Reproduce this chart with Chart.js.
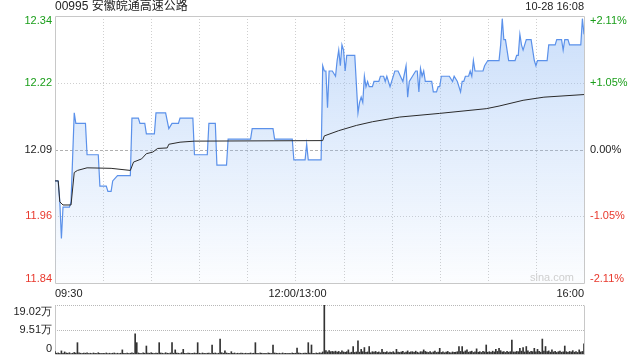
<!DOCTYPE html>
<html>
<head>
<meta charset="utf-8">
<script src="https://cdn.jsdelivr.net/npm/chart.js@4.4.0/dist/chart.umd.min.js"></script>
<style>
  body { margin: 0; background: #fff; }
  .box { position: absolute; left: 0; width: 640px; }
</style>
</head>
<body>
<div class="box" style="top:0;height:300px"><canvas id="main"></canvas></div>
<div class="box" style="top:300px;height:60px"><canvas id="vol"></canvas></div>
<script>
// header / labels
const stockName = '00995 安徽皖通高速公路';
const stamp = '10-28 16:08';
const prevClose = 12.09;
const pctLimit = 2.11;
const pctSteps = [2.11, 1.05, 0, -1.05, -2.11];
const priceLabels = ['12.34', '12.22', '12.09', '11.96', '11.84'];
const pctLabels = ['+2.11%', '+1.05%', '0.00%', '-1.05%', '-2.11%'];
const timeLabels = ['09:30', '12:00/13:00', '16:00'];
const volLabels = ['19.02万', '9.51万', '0'];
const volMax = 19.02;

// minute index (0 = 09:30, 150 = 12:00/13:00, 330 = 16:00) and price
const priceMinutes = [0, 2, 3, 4, 5, 9, 10, 12, 13, 19, 20, 27, 28, 32, 33, 35, 36, 39, 40, 47,
  48, 52, 53, 56, 57, 62, 63, 69, 71, 73, 77, 78, 86, 87, 95, 96, 100, 101, 107, 108,
  122, 123, 136, 137, 148, 149, 156, 157, 158, 166, 167, 168, 169, 170, 171, 173, 175, 176, 177, 178,
  179, 180, 181, 182, 187, 189, 190, 191, 192, 193, 194, 195, 196, 198, 199, 202, 203, 205, 206, 207,
  209, 212, 214, 217, 219, 220, 221, 223, 225, 226, 227, 228, 229, 230, 231, 235, 236, 238, 239, 240,
  241, 246, 248, 249, 251, 253, 254, 255, 256, 258, 259, 260, 261, 262, 267, 268, 270, 277, 278, 279,
  280, 281, 283, 287, 288, 289, 290, 291, 292, 294, 297, 299, 300, 301, 307, 308, 312, 313, 316, 317,
  318, 320, 321, 328, 329, 330];
const prices = [12.03, 12.03, 11.99, 11.92, 11.98, 11.98, 11.99, 12.16, 12.14, 12.14, 12.08, 12.08, 12.02, 12.02, 12.01, 12.01, 12.03, 12.04, 12.04, 12.04,
  12.15, 12.15, 12.14, 12.14, 12.12, 12.12, 12.16, 12.16, 12.13, 12.14, 12.14, 12.15, 12.15, 12.08, 12.08, 12.14, 12.14, 12.06, 12.06, 12.11,
  12.11, 12.13, 12.13, 12.11, 12.11, 12.07, 12.07, 12.10, 12.07, 12.07, 12.25, 12.24, 12.24, 12.17, 12.24, 12.24, 12.23, 12.26, 12.28, 12.25,
  12.29, 12.28, 12.24, 12.27, 12.27, 12.16, 12.18, 12.19, 12.18, 12.23, 12.21, 12.22, 12.21, 12.21, 12.22, 12.22, 12.23, 12.23, 12.22, 12.23,
  12.21, 12.24, 12.24, 12.22, 12.25, 12.19, 12.22, 12.23, 12.24, 12.24, 12.20, 12.245, 12.23, 12.24, 12.22, 12.22, 12.20, 12.20, 12.21, 12.21,
  12.23, 12.23, 12.22, 12.23, 12.22, 12.20, 12.22, 12.22, 12.23, 12.23, 12.24, 12.23, 12.26, 12.24, 12.24, 12.25, 12.26, 12.26, 12.29, 12.34,
  12.30, 12.30, 12.26, 12.26, 12.27, 12.27, 12.31, 12.29, 12.28, 12.30, 12.30, 12.26, 12.25, 12.26, 12.26, 12.29, 12.29, 12.30, 12.30, 12.28,
  12.30, 12.30, 12.29, 12.29, 12.34, 12.31];

// average price line
const avgMinutes = [0, 2, 3, 5, 10, 12, 14, 20, 35, 47, 49, 54, 57, 61, 64, 70, 71, 78, 87, 167,
  168, 177, 188, 198, 215, 240, 269, 277, 292, 305, 330];
const avgPrices = [12.03, 12.03, 11.99, 11.984, 11.984, 12.046, 12.05, 12.055, 12.054, 12.05, 12.066, 12.072, 12.082, 12.085, 12.092, 12.093, 12.10, 12.104, 12.106, 12.107,
  12.116, 12.126, 12.136, 12.143, 12.152, 12.159, 12.168, 12.173, 12.184, 12.19, 12.195];

// volume per minute, in 万 shares (minute 0..330)
const volumes = [
  0.9, 0.3, 0.4, 0.2, 1.2, 0.3, 0.8, 0.4, 0.3, 0.5, 0.2, 0.3, 0.6, 0.4, 4.4, 0.5, 0.3, 0.2, 0.4, 0.3, 0.5, 0.2, 0.3, 0.2, 0.4, 0.3, 0.2, 0.5, 0.3, 0.2,
  0.3, 0.2, 0.4, 0.2, 0.3, 0.2, 0.3, 0.4, 0.2, 0.3, 0.2, 0.3, 1.6, 0.3, 0.2, 0.4, 0.2, 0.3, 0.5, 0.3, 7.8, 4.4, 0.4, 0.3, 0.2, 0.5, 0.3, 3.1, 0.4, 0.3,
  0.5, 0.3, 0.2, 0.4, 0.3, 4.4, 0.4, 0.3, 0.2, 0.5, 0.3, 0.2, 0.4, 4.4, 0.3, 1.6, 0.4, 0.3, 0.2, 0.5, 1.8, 0.3, 0.2, 0.4, 0.3, 0.2, 0.3, 0.4, 0.3, 4.4,
  0.3, 0.2, 0.4, 0.3, 0.2, 0.3, 0.4, 0.2, 3.5, 0.3, 0.4, 0.2, 0.3, 5.8, 0.5, 0.3, 1.2, 0.4, 0.3, 0.2, 0.9, 0.3, 0.4, 0.2, 0.3, 0.2, 0.4, 0.3, 0.2, 0.3,
  0.2, 0.3, 0.4, 0.2, 0.3, 4.4, 0.3, 0.2, 0.4, 0.3, 0.2, 0.3, 0.2, 0.4, 0.3, 0.2, 3.5, 0.4, 0.3, 0.2, 0.3, 0.2, 0.4, 0.2, 0.3, 0.2, 0.3, 0.2, 0.4, 0.3,
  0.3, 2.3, 0.4, 0.3, 0.2, 0.3, 0.4, 0.3, 4.4, 0.4, 3.5, 0.3, 0.2, 0.4, 0.3, 0.5, 0.4, 0.8, 19.02, 1.3, 0.8, 1.3, 0.9, 1.0, 0.8, 1.1, 0.7, 1.0, 0.6, 1.2,
  0.8, 0.6, 0.9, 1.6, 0.5, 0.7, 2.9, 0.6, 0.8, 5.1, 0.7, 1.8, 0.9, 2.5, 0.6, 0.8, 2.9, 0.5, 0.9, 0.7, 1.0, 0.6, 0.8, 0.5, 1.8, 0.7, 0.6, 0.9, 0.5, 0.7,
  0.6, 0.9, 0.5, 1.8, 0.7, 0.6, 0.8, 1.0, 0.5, 0.7, 1.2, 0.6, 0.8, 0.9, 0.6, 1.1, 0.7, 0.5, 0.9, 0.8, 1.6, 1.0, 0.7, 0.6, 0.9, 0.5, 0.8, 1.1, 0.6, 0.7,
  2.2, 0.6, 0.8, 0.5, 0.7, 1.0, 0.6, 0.5, 0.8, 0.6, 0.7, 0.9, 2.9, 1.0, 2.9, 0.8, 1.2, 1.6, 0.7, 0.9, 1.1, 0.6, 0.8, 2.0, 0.7, 0.9, 0.6, 1.0, 0.8, 3.5,
  0.7, 0.9, 0.6, 1.1, 0.8, 1.8, 1.0, 2.2, 1.3, 0.8, 0.9, 0.6, 1.0, 0.7, 0.9, 5.4, 0.8, 0.7, 1.0, 0.9, 2.2, 1.1, 2.5, 0.8, 2.9, 1.2, 0.7, 1.0, 0.9, 2.2,
  0.8, 1.8, 1.0, 0.7, 5.8, 1.1, 2.9, 0.9, 1.2, 0.7, 1.6, 0.8, 1.0, 0.6, 0.9, 1.1, 0.7, 0.8, 3.1, 0.9, 0.6, 1.0, 0.8, 1.3, 0.7, 0.9, 0.6, 1.6, 0.8, 1.0,
  3.9];

const GREEN = '#1a9e1a';
const RED = '#e8382c';
const DARK = '#222';
const FONT = "11px Arial, 'Liberation Sans', sans-serif";
const colorFor = i => (i < 2 ? GREEN : i > 2 ? RED : DARK);

function hline(ctx, area, y, dash, color) {
  ctx.save();
  ctx.strokeStyle = color;
  ctx.lineWidth = 1;
  ctx.setLineDash(dash);
  ctx.beginPath();
  ctx.moveTo(area.left, Math.round(y) + 0.5);
  ctx.lineTo(area.right, Math.round(y) + 0.5);
  ctx.stroke();
  ctx.restore();
}
function vline(ctx, area, x, dash, color) {
  ctx.save();
  ctx.strokeStyle = color;
  ctx.lineWidth = 1;
  ctx.setLineDash(dash);
  ctx.beginPath();
  ctx.moveTo(Math.round(x) + 0.5, area.top);
  ctx.lineTo(Math.round(x) + 0.5, area.bottom);
  ctx.stroke();
  ctx.restore();
}
function frame(ctx, area, topDotted) {
  ctx.save();
  ctx.strokeStyle = '#c8c8c8';
  ctx.lineWidth = 1;
  const l = Math.round(area.left) + 0.5, r = Math.round(area.right) + 0.5;
  const t = Math.round(area.top) + 0.5, b = Math.round(area.bottom) + 0.5;
  ctx.beginPath();
  ctx.moveTo(l, t); ctx.lineTo(l, b); ctx.lineTo(r, b); ctx.lineTo(r, t);
  if (!topDotted) ctx.lineTo(l, t);
  ctx.stroke();
  ctx.restore();
}

const mainDecor = {
  id: 'mainDecor',
  beforeDatasetsDraw(chart) {
    const { ctx, chartArea: a, scales: { x, y } } = chart;
    for (let m = 30; m < 330; m += 30) vline(ctx, a, x.getPixelForValue(m), [1, 2], '#cfcfcf');
    pctSteps.forEach((p, i) => {
      if (i === 0 || i === 4) return;
      const py = y.getPixelForValue(prevClose * (1 + p / 100));
      if (p === 0) hline(ctx, a, py, [3, 2], '#b0b0b0');
      else hline(ctx, a, py, [1, 2], '#cfcfcf');
    });
    frame(ctx, a, false);
  },
  afterDraw(chart) {
    const { ctx, chartArea: a, scales: { x, y } } = chart;
    ctx.save();
    ctx.font = FONT;
    pctSteps.forEach((p, i) => {
      const py = y.getPixelForValue(prevClose * (1 + p / 100));
      ctx.textBaseline = i === 0 ? 'top' : i === 4 ? 'bottom' : 'middle';
      const ty = i === 0 ? py - 1 : i === 4 ? py + 1 : py;
      ctx.fillStyle = colorFor(i);
      ctx.textAlign = 'right';
      ctx.fillText(priceLabels[i], a.left - 3, ty);
      ctx.textAlign = 'left';
      ctx.fillText(pctLabels[i], a.right + 6, ty);
    });
    ctx.fillStyle = DARK;
    ctx.textBaseline = 'middle';
    const ly = a.bottom + 11;
    ctx.textAlign = 'left';
    ctx.fillText(timeLabels[0], x.getPixelForValue(0), ly);
    ctx.textAlign = 'center';
    ctx.fillText(timeLabels[1], x.getPixelForValue(150) + 2, ly);
    ctx.textAlign = 'right';
    ctx.fillText(timeLabels[2], x.getPixelForValue(330), ly);
    ctx.fillText(stamp, a.right, 7);
    ctx.textAlign = 'left';
    ctx.font = "12px Arial, 'Liberation Sans', 'Noto Sans CJK SC', sans-serif";
    ctx.fillText(stockName, a.left, 7);
    ctx.font = "11px Arial, 'Liberation Sans', sans-serif";
    ctx.fillStyle = '#cfcfcf';
    ctx.textAlign = 'right';
    ctx.textBaseline = 'bottom';
    ctx.fillText('sina.com', a.right - 10, a.bottom);
    ctx.restore();
  }
};

new Chart(document.getElementById('main'), {
  type: 'line',
  data: {
    datasets: [
      {
        data: avgMinutes.map((m, i) => ({ x: m, y: avgPrices[i] })),
        borderColor: '#2a2a2a',
        borderWidth: 1,
        pointRadius: 0,
        fill: false,
        order: 0
      },
      {
        data: priceMinutes.map((m, i) => ({ x: m, y: prices[i] })),
        borderColor: '#5b91ea',
        borderWidth: 1.2,
        pointRadius: 0,
        tension: 0,
        fill: 'start',
        order: 1,
        backgroundColor(c) {
          const area = c.chart.chartArea;
          if (!area) return 'rgba(150,190,245,0.2)';
          const g = c.chart.ctx.createLinearGradient(0, area.top, 0, area.bottom);
          g.addColorStop(0, 'rgba(150,190,245,0.5)');
          g.addColorStop(1, 'rgba(150,190,245,0.03)');
          return g;
        }
      }
    ]
  },
  options: {
    animation: false,
    responsive: true,
    maintainAspectRatio: false,
    layout: { padding: { left: 55, right: 56, top: 16, bottom: 17 } },
    plugins: { legend: { display: false }, tooltip: { enabled: false } },
    scales: {
      x: { type: 'linear', min: 0, max: 330, display: false },
      y: { min: prevClose * (1 - pctLimit / 100), max: prevClose * (1 + pctLimit / 100), display: false }
    }
  },
  plugins: [mainDecor]
});

const volDecor = {
  id: 'volDecor',
  beforeDatasetsDraw(chart) {
    const { ctx, chartArea: a, scales: { y } } = chart;
    hline(ctx, a, y.getPixelForValue(volMax), [1, 1], '#b8b8b8');
    hline(ctx, a, y.getPixelForValue(volMax / 2), [1, 1], '#b8b8b8');
    frame(ctx, a, true);
  },
  afterDraw(chart) {
    const { ctx, chartArea: a, scales: { y } } = chart;
    ctx.save();
    ctx.font = FONT;
    ctx.fillStyle = DARK;
    ctx.textAlign = 'right';
    [volMax, volMax / 2, 0].forEach((v, i) => {
      const py = y.getPixelForValue(v);
      ctx.textBaseline = i === 0 ? 'top' : i === 2 ? 'bottom' : 'middle';
      ctx.fillText(volLabels[i], a.left - 3, i === 0 ? py + 1 : py);
    });
    ctx.restore();
  }
};

new Chart(document.getElementById('vol'), {
  type: 'bar',
  data: {
    datasets: [{
      data: volumes.map((v, i) => ({ x: i, y: v })),
      backgroundColor: '#333',
      barThickness: 1
    }]
  },
  options: {
    animation: false,
    responsive: true,
    maintainAspectRatio: false,
    layout: { padding: { left: 55, right: 56, top: 5, bottom: 6 } },
    plugins: { legend: { display: false }, tooltip: { enabled: false } },
    scales: {
      x: { type: 'linear', min: 0, max: 330, offset: false, display: false },
      y: { min: 0, max: volMax, display: false }
    }
  },
  plugins: [volDecor]
});
</script>
</body>
</html>
